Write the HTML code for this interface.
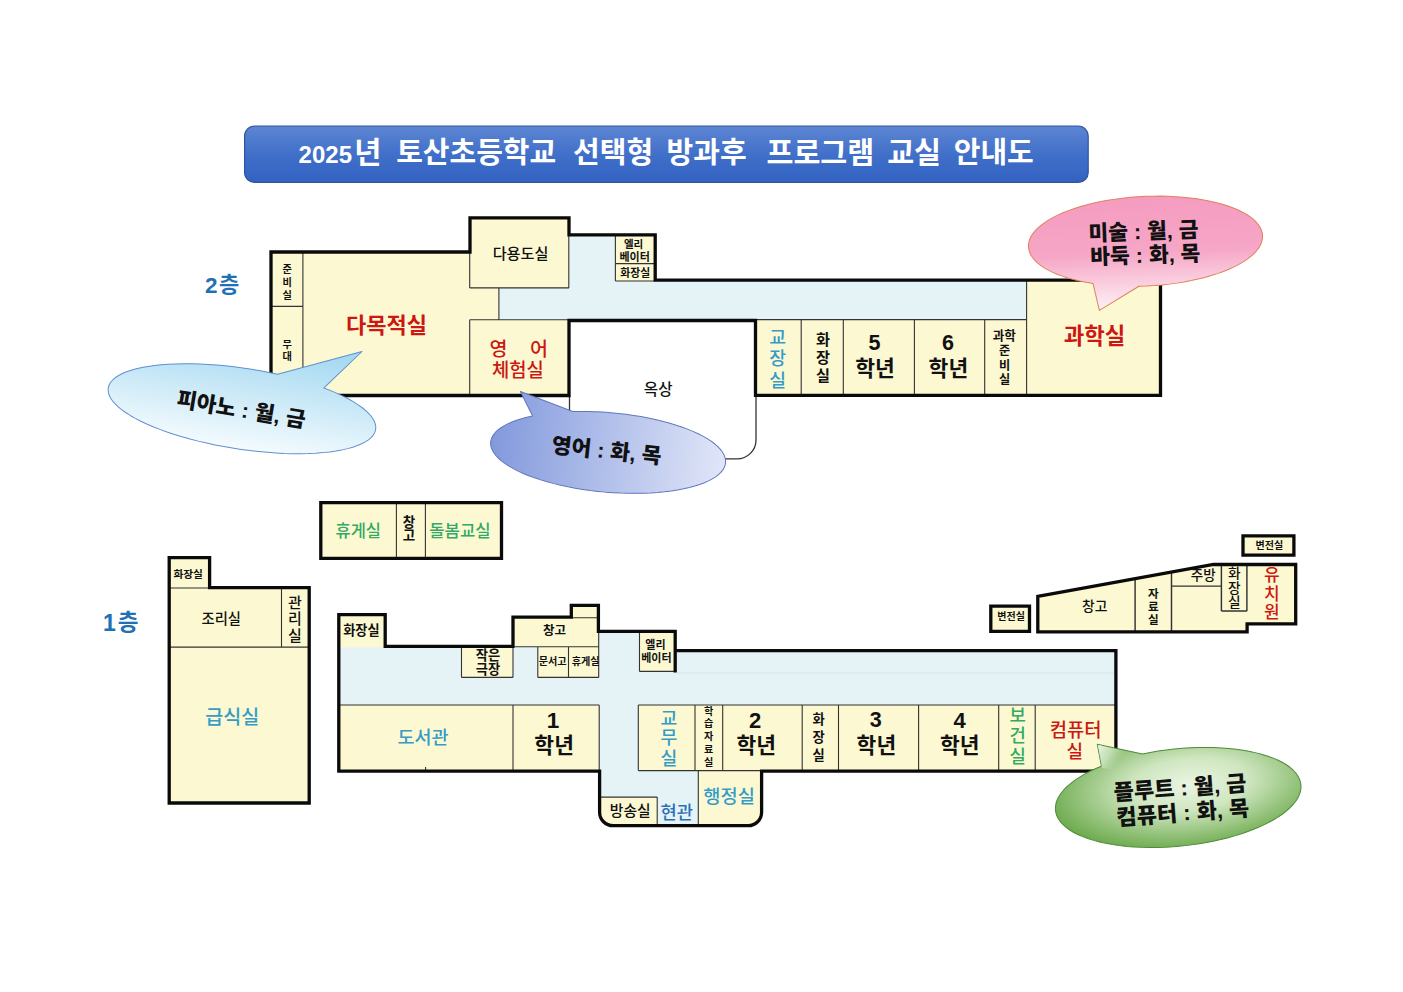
<!DOCTYPE html>
<html lang="ko"><head><meta charset="utf-8"><title>2025년 토산초등학교 선택형 방과후 프로그램 교실 안내도</title>
<style>html,body{margin:0;padding:0;background:#fff;font-family:"Liberation Sans",sans-serif}svg{display:block}svg text{font-family:"Liberation Sans","Noto Sans CJK KR","NanumGothic",sans-serif;text-anchor:middle}</style></head>
<body><svg width="1403" height="992" viewBox="0 0 1403 992">
<defs>
<linearGradient id="gt" x1="0" y1="0" x2="0" y2="1"><stop offset="0" stop-color="#5d86d3"/><stop offset=".5" stop-color="#4170c9"/><stop offset="1" stop-color="#3262c2"/></linearGradient>
<linearGradient id="gb1" x1="0" y1="0" x2="0" y2="1"><stop offset="0" stop-color="#9fd6f0"/><stop offset="1" stop-color="#f4fbfe"/></linearGradient>
<linearGradient id="gb2" x1="0" y1="0" x2="1" y2="0"><stop offset="0" stop-color="#8299dc"/><stop offset="1" stop-color="#e1e6f8"/></linearGradient>
<linearGradient id="gb3" x1="0" y1="0" x2="0" y2="1"><stop offset="0" stop-color="#f59cc0"/><stop offset=".5" stop-color="#f6a6c6"/><stop offset=".8" stop-color="#fad3e2"/><stop offset="1" stop-color="#fef2f6"/></linearGradient>
<radialGradient id="gb4" cx=".55" cy=".45" r=".6"><stop offset="0" stop-color="#eaf5e3"/><stop offset=".4" stop-color="#cfe6c0"/><stop offset="1" stop-color="#68a848"/></radialGradient>
<linearGradient id="gb4t" gradientUnits="userSpaceOnUse" x1="1098" y1="746" x2="1119" y2="761"><stop offset="0" stop-color="#f4faf0" stop-opacity=".95"/><stop offset=".55" stop-color="#e4f1dc" stop-opacity=".6"/><stop offset="1" stop-color="#d0e6c2" stop-opacity="0"/></linearGradient>
</defs>
<rect x="244.6" y="126" width="843.6" height="56.4" rx="10" fill="url(#gt)" stroke="#30549a" stroke-width="1.2"/>
<text x="325.3" y="162.8" font-size="24" font-weight="700" fill="#fff">2025</text>
<text x="367.7" y="163.2" font-size="29.5" font-weight="700" fill="#fff">년</text>
<text x="476.2" y="163" font-size="29" font-weight="700" fill="#fff">토산초등학교</text>
<text x="613.05" y="163" font-size="29" font-weight="700" fill="#fff">선택형</text>
<text x="706.6" y="163" font-size="29" font-weight="700" fill="#fff">방과후</text>
<text x="820.35" y="163.1" font-size="29.3" font-weight="700" fill="#fff">프로그램</text>
<text x="914.1" y="163.1" font-size="29.3" font-weight="700" fill="#fff">교실</text>
<text x="993.75" y="163" font-size="29" font-weight="700" fill="#fff">안내도</text>
<path d="M271 252 L470 252 L470 218 L569 218 L569 287.9 L498.9 287.9 L498.9 319.7 L569 319.7 L569 395.5 L271 395.5Z" fill="#fcf9d2"/>
<path d="M498.9 287.9 L569 287.9 L569 234.8 L655.2 234.8 L655.2 280.2 L1027 280.2 L1027 319.6 L498.9 319.6Z" fill="#e5f3f6"/>
<rect x="615.4" y="234.8" width="39.8" height="46.2" fill="#fcf9d2"/>
<rect x="755.5" y="319.6" width="271.5" height="75.8" fill="#fcf9d2"/>
<rect x="1026.6" y="280.2" width="133.9" height="115.2" fill="#fcf9d2"/>
<path d="M302.9 252V395M271 306.4H302.9M469.7 252V287.9M469.7 287.9H569M568.8 235V287.9M498.9 287.9V319.7M469.7 319.7H569M469.7 319.7V395M615.4 235V281M615.4 263.6H655M615.4 281H655M757 319.6H1026.6M801.2 319.6V395M843.3 319.6V395M914.4 319.6V395M984.7 319.6V395M1026.6 280.2V395" fill="none" stroke="#333" stroke-width="1.1"/>
<path d="M569.5 395V439.9a19 19 0 0 0 19 19H737a19 19 0 0 0 19-19V397" fill="none" stroke="#333" stroke-width="1.3"/>
<path d="M569 395.5 L271 395.5 L271 252 L470 252 L470 217.8 L569 217.8 L569 234.8 L655.2 234.8 L655.2 280.2 L1160.5 280.2 L1160.5 395.4 L755.5 395.4 L755.5 320.5 L569 320.5Z" fill="none" stroke="#0a0a0a" stroke-width="3.3" stroke-linejoin="miter"/>
<rect x="320.8" y="502.6" width="180.7" height="55.8" fill="#fcf9d2"/>
<path d="M396.4 502.6V558.4M425.4 502.6V558.4" fill="none" stroke="#333" stroke-width="1.1"/>
<path d="M320.8 502.6 L501.5 502.6 L501.5 558.4 L320.8 558.4Z" fill="none" stroke="#0a0a0a" stroke-width="3.3" stroke-linejoin="miter"/>
<path d="M169.2 557.6 L209.6 557.6 L209.6 587.6 L309.2 587.6 L309.2 803 L169.2 803Z" fill="#fcf9d2"/>
<path d="M169.2 588H209.6M281.5 587.6V647.1M169.2 647.1H309.2" fill="none" stroke="#333" stroke-width="1.1"/>
<path d="M169.2 557.6 L209.6 557.6 L209.6 587.6 L309.2 587.6 L309.2 803 L169.2 803Z" fill="none" stroke="#0a0a0a" stroke-width="3.3" stroke-linejoin="miter"/>
<clipPath id="c1"><path d="M338.8 614.6H385.2V646.3H513V617.2H571.3V605.4H598.4V631.4H675.2V650.7H1115.9V771.1H761.6V812.2a13.5 13.5 0 0 1 -13.5 13.5H613.1a13.5 13.5 0 0 1 -13.5 -13.5V771.1H338.8Z"/></clipPath>
<g clip-path="url(#c1)">
<rect x="330" y="600" width="795" height="230" fill="#e5f3f6"/>
<rect x="338.8" y="614.6" width="46.4" height="32.7" fill="#fcf9d2"/>
<rect x="513" y="617.2" width="85.7" height="29.5" fill="#fcf9d2"/>
<rect x="571.3" y="605.4" width="27.4" height="12.6" fill="#fcf9d2"/>
<rect x="461.5" y="646.3" width="51.5" height="31.1" fill="#fcf9d2"/>
<rect x="537.8" y="646.7" width="60.9" height="30.7" fill="#fcf9d2"/>
<rect x="639.5" y="631.4" width="35.7" height="40" fill="#fcf9d2"/>
<rect x="338.8" y="705" width="260.4" height="66.1" fill="#fcf9d2"/>
<rect x="638.3" y="705" width="477.7" height="66.1" fill="#fcf9d2"/>
<rect x="599.6" y="797.1" width="57.6" height="29.9" fill="#fcf9d2"/>
<rect x="698.3" y="770.6" width="63.7" height="56.4" fill="#fcf9d2"/>
</g>
<path d="M677 673H1114" stroke="#d3e6ec" stroke-width="1" fill="none"/>
<path d="M514.6 646.7H598.7M571.3 617.7H598.4M461.5 648V677.4M461.5 677.4H513M513 648V677.4M537.8 646.7V677.4M568.5 646.7V677.4M598.7 633V677.4M537.8 677.4H598.7M639.5 633V671.4M639.5 671.4H675M338.8 705H599.2M599.2 705V771M513 705V771M638.3 705H1115.9M638.3 705V770.6M638.3 770.6H761M695 705V771M722.7 705V771M802.2 705V771M838.5 705V771M918.6 705V771M998.7 705V771M1035.2 705V771M599.6 797.1H657.2M657.2 797.1V825.7M698.3 770.6V825.7M425.6 767V770" fill="none" stroke="#333" stroke-width="1.1"/>
<path d="M599.6 771.1H338.8V614.6H385.2V646.3H513V617.2H571.3V605.4H598.4V631.4H675.2V672.4M675.2 650.7H1115.9V771.1H761.6V812.2a13.5 13.5 0 0 1 -13.5 13.5H613.1a13.5 13.5 0 0 1 -13.5 -13.5V769.5" fill="none" stroke="#0a0a0a" stroke-width="3.3" stroke-linejoin="miter"/>
<path d="M1037.8 596.3 L1213.5 564.5 L1295.7 564.5 L1295.7 623.8 L1247.1 623.8 L1247.1 631.8 L1037.8 631.8Z" fill="#fcf9d2"/>
<path d="M1135.1 578.69V631M1171.5 572.1V631M1171.5 586.1H1221.4M1221.4 566V611M1221.4 611H1246.9M1246.9 566V611" fill="none" stroke="#333" stroke-width="1.45"/>
<path d="M1037.8 596.3 L1213.5 564.5 L1295.7 564.5 L1295.7 623.8 L1247.1 623.8 L1247.1 631.8 L1037.8 631.8Z" fill="none" stroke="#0a0a0a" stroke-width="3.3" stroke-linejoin="miter"/>
<rect x="990.8" y="606.2" width="38.7" height="25.1" fill="#fcf9d2"/>
<path d="M990.8 606.2 L1029.5 606.2 L1029.5 631.3 L990.8 631.3Z" fill="none" stroke="#0a0a0a" stroke-width="3.3" stroke-linejoin="miter"/>
<rect x="1243" y="535.8" width="50.9" height="19.3" fill="#fcf9d2"/>
<path d="M1243 535.8 L1293.9 535.8 L1293.9 555.1 L1243 555.1Z" fill="none" stroke="#0a0a0a" stroke-width="3.3" stroke-linejoin="miter"/>
<text x="211.35" y="293.1" font-size="22.5" font-weight="700" fill="#1f70b4">2</text>
<text x="229.2" y="291.7" font-size="22" font-weight="700" fill="#1f70b4">층</text>
<text x="287.1" y="273.4" font-size="10.2" font-weight="700" fill="#111">준</text>
<text x="287.1" y="286.2" font-size="10.2" font-weight="700" fill="#111">비</text>
<text x="287.1" y="298.8" font-size="10.2" font-weight="700" fill="#111">실</text>
<text x="287.1" y="347.6" font-size="10.2" font-weight="700" fill="#111">무</text>
<text x="287.1" y="359.9" font-size="10.2" font-weight="700" fill="#111">대</text>
<text x="520.6" y="258.9" font-size="15.2" font-weight="500" fill="#111">다용도실</text>
<text x="386.6" y="333.1" font-size="22" font-weight="700" fill="#cc1712">다목적실</text>
<text x="498.55" y="355.5" font-size="19.5" font-weight="500" fill="#cc1712">영</text>
<text x="538.95" y="355.5" font-size="19.5" font-weight="500" fill="#cc1712">어</text>
<text x="517.8" y="376.5" font-size="18.8" font-weight="500" fill="#cc1712">체험실</text>
<text x="633.6" y="248" font-size="10.5" font-weight="700" fill="#111">엘리</text>
<text x="634.6" y="260.9" font-size="11" font-weight="700" fill="#111">베이터</text>
<text x="635.2" y="276.5" font-size="10.8" font-weight="700" fill="#111">화장실</text>
<text x="658.2" y="395.3" font-size="15.6" font-weight="500" fill="#111">옥상</text>
<text x="777.6" y="344" font-size="18.3" font-weight="500" fill="#359bc9">교</text>
<text x="777.6" y="365.1" font-size="18.3" font-weight="500" fill="#359bc9">장</text>
<text x="777.6" y="386.6" font-size="18.3" font-weight="500" fill="#359bc9">실</text>
<text x="822.9" y="345.2" font-size="15.2" font-weight="700" fill="#111">화</text>
<text x="822.9" y="362.9" font-size="15.2" font-weight="700" fill="#111">장</text>
<text x="822.9" y="380.7" font-size="15.2" font-weight="700" fill="#111">실</text>
<text x="874.55" y="350.1" font-size="21.5" font-weight="700" fill="#111">5</text>
<text x="875" y="375.5" font-size="21.5" font-weight="700" fill="#111">학년</text>
<text x="947.9" y="350.1" font-size="21.5" font-weight="700" fill="#111">6</text>
<text x="948.4" y="375.5" font-size="21.5" font-weight="700" fill="#111">학년</text>
<text x="1004.35" y="340.2" font-size="12.6" font-weight="700" fill="#111">과학</text>
<text x="1004.6" y="354.8" font-size="12.2" font-weight="700" fill="#111">준</text>
<text x="1004.6" y="369.6" font-size="12.2" font-weight="700" fill="#111">비</text>
<text x="1004.6" y="384.4" font-size="12.2" font-weight="700" fill="#111">실</text>
<text x="1094.55" y="344" font-size="22.3" font-weight="700" fill="#cc1712">과학실</text>
<text x="109.3" y="631.3" font-size="23" font-weight="700" fill="#1f70b4">1</text>
<text x="128.05" y="630.4" font-size="22.5" font-weight="700" fill="#1f70b4">층</text>
<text x="358.25" y="536.8" font-size="16.5" font-weight="500" fill="#33a964">휴게실</text>
<text x="408.9" y="526.6" font-size="13.5" font-weight="700" fill="#111">창</text>
<text x="408.9" y="539.8" font-size="13.5" font-weight="700" fill="#111">고</text>
<text x="459.95" y="536.9" font-size="16.7" font-weight="500" fill="#33a964">돌봄교실</text>
<text x="188.2" y="578.1" font-size="10.7" font-weight="700" fill="#111">화장실</text>
<text x="221.3" y="623.7" font-size="14.3" font-weight="500" fill="#111">조리실</text>
<text x="295" y="607.8" font-size="15" font-weight="500" fill="#111">관</text>
<text x="295" y="624.4" font-size="15" font-weight="500" fill="#111">리</text>
<text x="295" y="641.2" font-size="15" font-weight="500" fill="#111">실</text>
<text x="232.35" y="724" font-size="19.6" font-weight="500" fill="#359bc9">급식실</text>
<text x="361.35" y="635.1" font-size="13.2" font-weight="700" fill="#111">화장실</text>
<text x="554.6" y="635.3" font-size="12.5" font-weight="700" fill="#111">창고</text>
<text x="487.9" y="660.3" font-size="13.3" font-weight="700" fill="#111">작은</text>
<text x="487.9" y="674.2" font-size="13.3" font-weight="700" fill="#111">극장</text>
<text x="552.7" y="665.3" font-size="10.1" font-weight="700" fill="#111">문서고</text>
<text x="585.6" y="665.3" font-size="10.1" font-weight="700" fill="#111">휴게실</text>
<text x="655.45" y="648.9" font-size="11" font-weight="700" fill="#111">엘리</text>
<text x="656.45" y="661.8" font-size="11" font-weight="700" fill="#111">베이터</text>
<text x="423.05" y="743.6" font-size="18.5" font-weight="500" fill="#359bc9">도서관</text>
<text x="553.1" y="727.7" font-size="22.5" font-weight="700" fill="#111">1</text>
<text x="554.15" y="752.9" font-size="21.5" font-weight="700" fill="#111">학년</text>
<text x="755.2" y="727.7" font-size="22" font-weight="700" fill="#111">2</text>
<text x="756.2" y="752.9" font-size="21.5" font-weight="700" fill="#111">학년</text>
<text x="875.75" y="727.4" font-size="21.5" font-weight="700" fill="#111">3</text>
<text x="876.4" y="752.9" font-size="21.5" font-weight="700" fill="#111">학년</text>
<text x="959.5" y="727.7" font-size="22" font-weight="700" fill="#111">4</text>
<text x="959.75" y="752.9" font-size="21.5" font-weight="700" fill="#111">학년</text>
<text x="669" y="724.5" font-size="18.3" font-weight="500" fill="#359bc9">교</text>
<text x="669" y="744.2" font-size="18.3" font-weight="500" fill="#359bc9">무</text>
<text x="669" y="765.2" font-size="18.3" font-weight="500" fill="#359bc9">실</text>
<text x="708.7" y="714.7" font-size="10.1" font-weight="700" fill="#111">학</text>
<text x="708.7" y="727.4" font-size="10.1" font-weight="700" fill="#111">습</text>
<text x="708.7" y="740.1" font-size="10.1" font-weight="700" fill="#111">자</text>
<text x="708.7" y="753" font-size="10.1" font-weight="700" fill="#111">료</text>
<text x="708.7" y="765.5" font-size="10.1" font-weight="700" fill="#111">실</text>
<text x="818.6" y="723.6" font-size="13.3" font-weight="700" fill="#111">화</text>
<text x="818.6" y="741.8" font-size="13.3" font-weight="700" fill="#111">장</text>
<text x="818.6" y="759.9" font-size="13.3" font-weight="700" fill="#111">실</text>
<text x="1017.6" y="722.2" font-size="17.8" font-weight="500" fill="#33a964">보</text>
<text x="1017.6" y="742.2" font-size="17.8" font-weight="500" fill="#33a964">건</text>
<text x="1017.6" y="762.5" font-size="17.8" font-weight="500" fill="#33a964">실</text>
<text x="1075.55" y="737.1" font-size="18.8" font-weight="500" fill="#cc1712">컴퓨터</text>
<text x="1074.75" y="757.6" font-size="18" font-weight="500" fill="#cc1712">실</text>
<text x="630.2" y="815.9" font-size="14.8" font-weight="500" fill="#111">방송실</text>
<text x="676.65" y="818.8" font-size="17.7" font-weight="500" fill="#2a72b8">현관</text>
<text x="729.05" y="803.1" font-size="18.7" font-weight="500" fill="#359bc9">행정실</text>
<text x="1011.15" y="620.3" font-size="10" font-weight="700" fill="#111">변전실</text>
<text x="1269.3" y="549" font-size="10" font-weight="700" fill="#111">변전실</text>
<text x="1094.7" y="611.3" font-size="13.8" font-weight="500" fill="#111">창고</text>
<text x="1153.3" y="598.4" font-size="11.6" font-weight="700" fill="#111">자</text>
<text x="1153.3" y="611.4" font-size="11.6" font-weight="700" fill="#111">료</text>
<text x="1153.3" y="624" font-size="11.6" font-weight="700" fill="#111">실</text>
<text x="1203.2" y="580.1" font-size="13.5" font-weight="500" fill="#111">주방</text>
<text x="1234.4" y="577.9" font-size="13.7" font-weight="500" fill="#111">화</text>
<text x="1234.4" y="592.6" font-size="13.7" font-weight="500" fill="#111">장</text>
<text x="1234.4" y="607.3" font-size="13.7" font-weight="500" fill="#111">실</text>
<text x="1271.8" y="581.4" font-size="17" font-weight="500" fill="#cc1712">유</text>
<text x="1271.8" y="599.9" font-size="17" font-weight="500" fill="#cc1712">치</text>
<text x="1271.8" y="618.3" font-size="17" font-weight="500" fill="#cc1712">원</text>
<path transform="translate(241.95 408.7) rotate(8.8)" d="M77.86 -33.04 84.93 -31.45 91.64 -29.72 97.96 -27.87 103.86 -25.89 109.31 -23.81 114.29 -21.62 118.78 -19.34 122.77 -16.98 126.22 -14.55 129.14 -12.05 131.51 -9.5 133.31 -6.91 134.53 -4.29 135.19 -1.66 135.26 0.99 134.75 3.63 133.67 6.25 132.01 8.85 129.79 11.41 127.01 13.92 123.69 16.37 119.83 18.76 115.47 21.06 110.61 23.27 105.27 25.38 99.49 27.38 93.27 29.27 86.66 31.03 79.68 32.65 72.35 34.14 64.72 35.48 56.8 36.67 48.65 37.7 40.28 38.57 31.75 39.27 23.07 39.81 14.3 40.17 5.47 40.37 -3.39 40.39 -12.23 40.23 -21.02 39.91 -29.72 39.41 -38.29 38.75 -46.7 37.92 -54.91 36.92 -62.88 35.77 -70.59 34.47 -77.99 33.01 -85.05 31.42 -91.76 29.69 -98.06 27.83 -103.95 25.86 -109.4 23.77 -114.37 21.58 -118.86 19.3 -122.83 16.94 -126.28 14.5 -129.19 12.01 -131.54 9.46 -133.33 6.87 -134.55 4.25 -135.19 1.61 -135.26 -1.03 -134.74 -3.67 -133.65 -6.3 -131.98 -8.9 -129.75 -11.46 -126.96 -13.97 -123.63 -16.42 -119.76 -18.8 -115.39 -21.1 -110.52 -23.31 -105.18 -25.41 -99.38 -27.41 -93.16 -29.3 -86.54 -31.05 -79.55 -32.68 -72.22 -34.16 -64.58 -35.5 -56.66 -36.69 -48.51 -37.71 -40.14 -38.58 -31.6 -39.28 -22.92 -39.82 -14.15 -40.18 -5.32 -40.37 3.54 -40.39 12.38 -40.23 21.17 -39.9 29.87 -39.4 109.89 -74.89Z" fill="url(#gb1)" stroke="#5f8fd0" stroke-width="1.0" stroke-linejoin="round"/>
<text transform="translate(241.4 409.5) rotate(9.5)" x="0" y="7.7" font-size="21.5" font-weight="900" fill="#111">피아노 : 월, 금</text>
<path transform="translate(608.1 452.4) rotate(5)" d="M-38.76 -37.59 -31.39 -38.36 -23.89 -38.97 -16.29 -39.42 -8.62 -39.69 -0.91 -39.8 6.8 -39.73 14.49 -39.5 22.11 -39.09 29.64 -38.52 37.04 -37.79 44.28 -36.89 51.33 -35.83 58.16 -34.62 64.75 -33.26 71.05 -31.76 77.05 -30.12 82.72 -28.36 88.04 -26.47 92.98 -24.47 97.52 -22.37 101.65 -20.16 105.34 -17.88 108.58 -15.51 111.35 -13.08 113.64 -10.6 115.45 -8.06 116.77 -5.5 117.58 -2.91 117.9 -0.31 117.7 2.3 117.01 4.89 115.81 7.46 114.11 10.01 111.93 12.5 109.27 14.95 106.14 17.33 102.55 19.63 98.53 21.86 94.09 23.99 89.24 26.01 84.01 27.93 78.42 29.72 72.49 31.39 66.25 32.92 59.73 34.31 52.96 35.56 45.95 36.65 38.75 37.59 31.39 38.36 23.89 38.97 16.29 39.42 8.61 39.69 0.9 39.8 -6.81 39.73 -14.49 39.5 -22.11 39.09 -29.64 38.52 -37.04 37.78 -44.28 36.89 -51.33 35.83 -58.17 34.62 -64.75 33.26 -71.05 31.76 -77.05 30.12 -82.73 28.36 -88.04 26.47 -92.98 24.47 -97.53 22.36 -101.65 20.16 -105.34 17.88 -108.58 15.51 -111.35 13.08 -113.65 10.6 -115.45 8.06 -116.77 5.5 -117.59 2.91 -117.9 0.3 -117.7 -2.3 -117.01 -4.89 -115.81 -7.47 -114.11 -10.01 -111.93 -12.5 -109.27 -14.95 -106.14 -17.33 -102.55 -19.64 -98.53 -21.86 -94.08 -23.99 -89.23 -26.01 -84 -27.93 -78.41 -29.72 -92.67 -53.02Z" fill="url(#gb2)" stroke="#6077bd" stroke-width="1.0" stroke-linejoin="round"/>
<text transform="translate(606.7 450.5) rotate(6)" x="0" y="7.7" font-size="21.5" font-weight="900" fill="#111">영어 : 화, 목</text>
<path transform="translate(1145.5 241.2) rotate(-2.75)" d="M-8.69 44.68 -1.05 44.8 6.6 44.73 14.22 44.47 21.77 44.02 29.24 43.38 36.58 42.56 43.76 41.56 50.76 40.38 57.54 39.03 64.07 37.51 70.34 35.83 76.3 34 81.94 32.03 87.23 29.92 92.15 27.68 96.68 25.32 100.79 22.86 104.48 20.3 107.72 17.65 110.5 14.93 112.81 12.14 114.64 9.3 115.99 6.43 116.84 3.52 117.19 0.6 117.04 -2.32 116.4 -5.24 115.26 -8.13 113.62 -10.98 111.51 -13.79 108.92 -16.54 105.86 -19.22 102.36 -21.82 98.42 -24.33 94.06 -26.73 89.3 -29.01 84.16 -31.18 78.66 -33.21 72.83 -35.1 66.68 -36.84 60.25 -38.43 53.57 -39.85 46.66 -41.1 39.55 -42.17 32.27 -43.07 24.85 -43.78 17.33 -44.31 9.73 -44.65 2.09 -44.79 -5.55 -44.75 -13.18 -44.52 -20.74 -44.09 -28.22 -43.48 -35.58 -42.69 -42.79 -41.71 -49.81 -40.55 -56.62 -39.22 -63.2 -37.73 -69.5 -36.07 -75.51 -34.26 -81.19 -32.31 -86.53 -30.22 -91.5 -27.99 -96.08 -25.65 -100.25 -23.2 -104 -20.66 -107.3 -18.02 -110.15 -15.31 -112.53 -12.53 -114.42 -9.69 -115.83 -6.82 -116.75 -3.92 -117.17 -1 -117.09 1.92 -116.51 4.84 -115.44 7.73 -113.88 10.59 -111.83 13.41 -109.3 16.17 -106.31 18.86 -102.87 21.47 -98.98 23.99 -94.68 26.4 -89.97 28.71 -84.88 30.89 -79.43 32.94 -73.64 34.85 -67.54 36.61 -61.15 38.22 -54.5 39.66 -49.37 66.91Z" fill="url(#gb3)" stroke="#e0805a" stroke-width="1.0" stroke-linejoin="round"/>
<text transform="translate(1143.5 231.3) rotate(-2)" x="0" y="7.7" font-size="21.5" font-weight="900" fill="#111">미술 : 월, 금</text>
<text transform="translate(1145.3 254.8) rotate(-2)" x="0" y="7.8" font-size="21.5" font-weight="900" fill="#111">바둑 : 화, 목</text>
<path transform="translate(1178.2 797.5) rotate(-6)" d="M-30.97 -47.04 -23.08 -47.74 -15.08 -48.24 -7.02 -48.52 1.07 -48.6 9.15 -48.47 17.2 -48.13 25.17 -47.58 33.03 -46.83 40.76 -45.87 48.3 -44.72 55.64 -43.38 62.74 -41.85 69.57 -40.14 76.1 -38.26 82.3 -36.21 88.15 -34.01 93.62 -31.66 98.69 -29.18 103.33 -26.56 107.53 -23.84 111.27 -21.01 114.53 -18.1 117.29 -15.1 119.55 -12.04 121.3 -8.93 122.52 -5.78 123.22 -2.6 123.39 0.58 123.03 3.77 122.14 6.94 120.72 10.07 118.78 13.17 116.34 16.21 113.39 19.17 109.96 22.06 106.05 24.85 101.68 27.54 96.88 30.1 91.66 32.54 86.05 34.83 80.07 36.98 73.74 38.97 67.1 40.79 60.17 42.43 52.98 43.89 45.56 45.17 37.94 46.25 30.17 47.13 22.26 47.8 14.26 48.27 6.19 48.54 -1.9 48.59 -9.98 48.44 -18.02 48.08 -25.99 47.51 -33.84 46.74 -41.54 45.76 -49.07 44.59 -56.38 43.23 -63.46 41.68 -70.26 39.95 -76.76 38.05 -82.92 35.99 -88.73 33.77 -94.16 31.41 -99.19 28.91 -103.79 26.29 -107.94 23.55 -111.63 20.72 -114.83 17.79 -117.55 14.79 -119.76 11.72 -121.45 8.61 -122.62 5.45 -123.26 2.27 -123.38 -0.91 -122.96 -4.1 -122.02 -7.26 -120.54 -10.39 -118.56 -13.48 -116.06 -16.52 -113.06 -19.48 -109.57 -22.35 -105.62 -25.13 -101.21 -27.8 -96.36 -30.36 -91.1 -32.78 -85.45 -35.06 -79.44 -37.19 -73.07 -39.16 -74.89 -61.46Z" fill="url(#gb4)" stroke="#4f8a3a" stroke-width="1.0" stroke-linejoin="round"/>
<path d="M1097.8 744.8L1102 768L1118 770L1142 755Z" fill="url(#gb4t)"/>
<text transform="translate(1180 787.8) rotate(-4.2)" x="0" y="7.9" font-size="22" font-weight="900" fill="#111">플루트 : 월, 금</text>
<text transform="translate(1182.8 812.7) rotate(-4.2)" x="0" y="7.9" font-size="22" font-weight="900" fill="#111">컴퓨터 : 화, 목</text>
</svg></body></html>
